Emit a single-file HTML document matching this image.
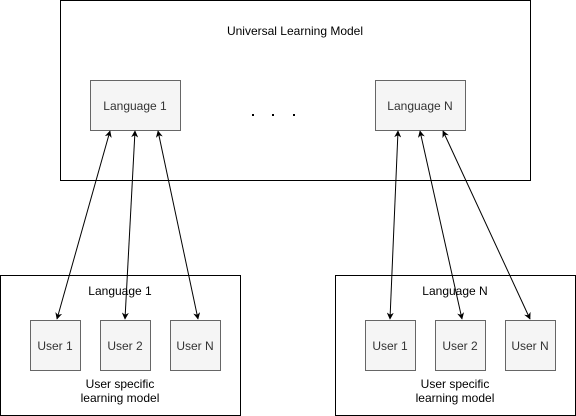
<!DOCTYPE html>
<html><head><style>body{margin:0;background:#fff}svg{display:block}</style></head><body>
<svg width="576" height="416" viewBox="0 0 576 416" xmlns="http://www.w3.org/2000/svg" font-family="Liberation Sans, sans-serif" font-size="12">
<defs>
<marker id="a" viewBox="0 0 10 10" refX="9" refY="5" markerWidth="7" markerHeight="7" orient="auto-start-reverse" markerUnits="userSpaceOnUse">
<path d="M0,0 L10,5 L0,10 L3,5 Z" fill="#000"/></marker>
</defs>
<rect x="60.5" y="0.5" width="470" height="180" fill="#fff" stroke="#000"/>
<text x="295" y="35" text-anchor="middle" fill="#000">Universal Learning Model</text>
<rect x="90.5" y="80.5" width="90" height="50" fill="#f5f5f5" stroke="#666"/>
<text x="135" y="110" text-anchor="middle" fill="#333">Language 1</text>
<rect x="375.5" y="80.5" width="90" height="50" fill="#f5f5f5" stroke="#666"/>
<text x="420" y="110" text-anchor="middle" fill="#333">Language N</text>
<rect x="252" y="114" width="2" height="2" fill="#000"/><rect x="272" y="114" width="2" height="2" fill="#000"/><rect x="293" y="114" width="2" height="2" fill="#000"/>
<rect x="0.5" y="275.5" width="240" height="140" fill="#fff" stroke="#000"/>
<text x="120" y="295" text-anchor="middle">Language 1</text>
<rect x="335.5" y="275.5" width="240" height="140" fill="#fff" stroke="#000"/>
<text x="455" y="295" text-anchor="middle">Language N</text>
<g fill="#f5f5f5" stroke="#666">
<rect x="30.5" y="320.5" width="50" height="50"/><rect x="100.5" y="320.5" width="50" height="50"/><rect x="170.5" y="320.5" width="50" height="50"/>
<rect x="365.5" y="320.5" width="50" height="50"/><rect x="435.5" y="320.5" width="50" height="50"/><rect x="505.5" y="320.5" width="50" height="50"/>
</g>
<g fill="#333" text-anchor="middle">
<text x="55" y="350">User 1</text><text x="125" y="350">User 2</text><text x="195" y="350">User N</text>
<text x="390" y="350">User 1</text><text x="460" y="350">User 2</text><text x="530" y="350">User N</text>
</g>
<g fill="#000" text-anchor="middle">
<text x="120" y="388">User specific</text><text x="120" y="402">learning model</text>
<text x="455" y="388">User specific</text><text x="455" y="402">learning model</text>
</g>
<g stroke="#000" stroke-width="1" marker-start="url(#a)" marker-end="url(#a)">
<line x1="110" y1="131" x2="57" y2="319"/>
<line x1="135" y1="131" x2="125" y2="319"/>
<line x1="158" y1="131" x2="198" y2="319"/>
<line x1="398" y1="131" x2="390" y2="319"/>
<line x1="420" y1="131" x2="462" y2="319"/>
<line x1="443" y1="131" x2="530" y2="319"/>
</g>
</svg>
</body></html>
